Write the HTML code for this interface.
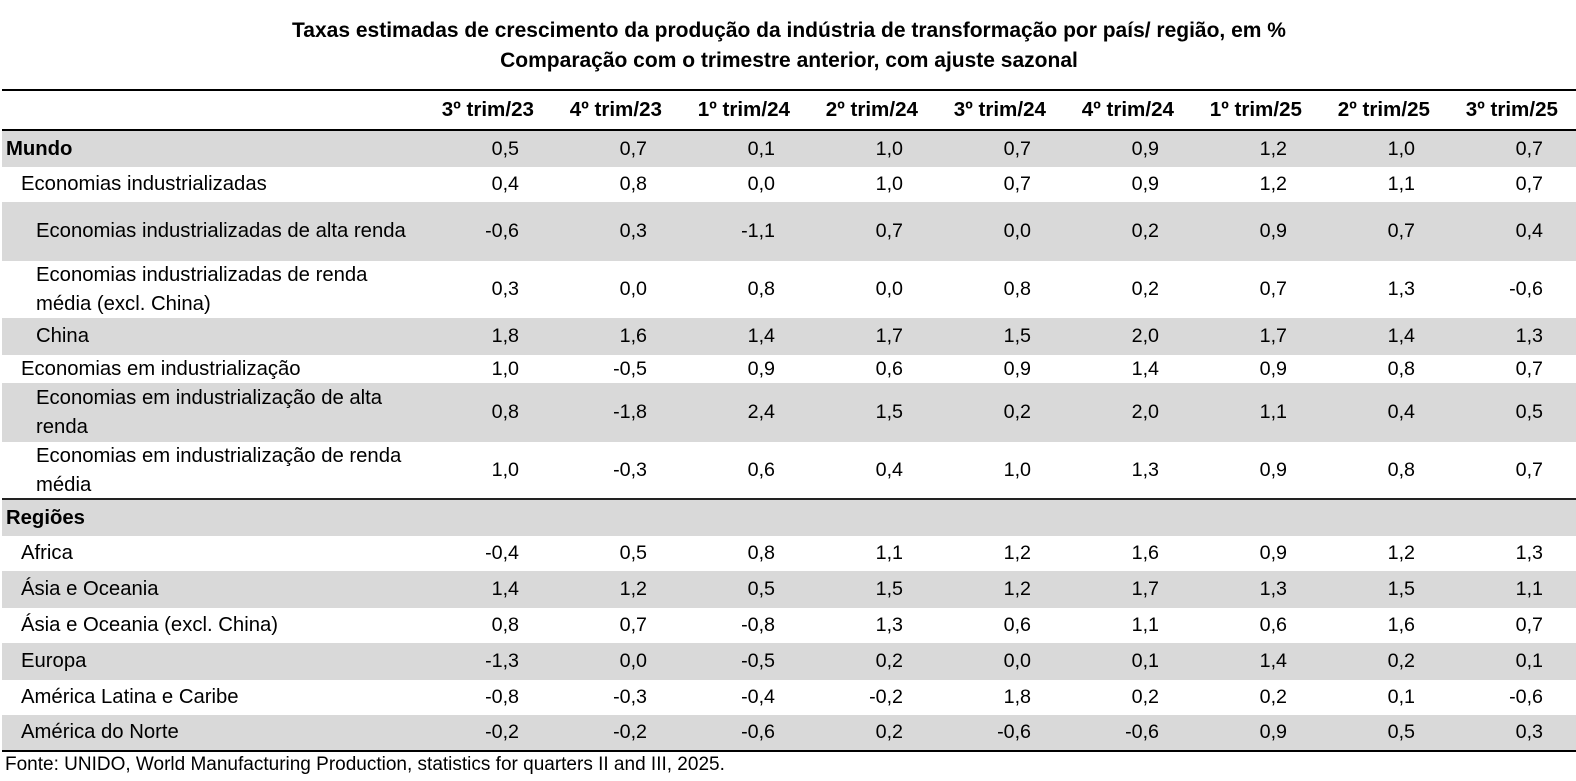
<!DOCTYPE html>
<html>
<head>
<meta charset="utf-8">
<style>
  html,body{margin:0;padding:0;background:#fff;}
  body{width:1576px;height:781px;position:relative;overflow:hidden;font-family:"Liberation Sans",Arial,sans-serif;color:#000;}
  .title{position:absolute;left:2px;width:1574px;top:16px;text-align:center;font-weight:bold;font-size:21px;line-height:30px;white-space:nowrap;}
  .hl{position:absolute;left:2px;width:1574px;background:#000;}
  .row{position:absolute;left:2px;width:1574px;display:flex;align-items:center;}
  .g{background:#d9d9d9;}
  .lab{width:404px;box-sizing:border-box;font-size:20.3px;white-space:nowrap;line-height:29px;}
  .c{width:128px;box-sizing:border-box;text-align:right;padding-right:15px;font-size:19.7px;white-space:nowrap;}
  .h .c{padding-right:0;font-weight:bold;font-size:20.6px;}
  .b{font-weight:bold;}
  .i0{padding-left:4px;}
  .i1{padding-left:19px;}
  .i2{padding-left:34px;}
  .foot{position:absolute;left:5px;top:755px;font-size:19px;line-height:20px;white-space:nowrap;}
</style>
</head>
<body>
<div class="title">Taxas estimadas de crescimento da produção da indústria de transformação por país/ região, em %<br>Comparação com o trimestre anterior, com ajuste sazonal</div>

<div class="hl" style="top:89px;height:2px;"></div>
<div class="row h" style="top:91px;height:38px;">
  <div class="lab"></div>
  <div class="c">3º trim/23</div><div class="c">4º trim/23</div><div class="c">1º trim/24</div><div class="c">2º trim/24</div><div class="c">3º trim/24</div><div class="c">4º trim/24</div><div class="c">1º trim/25</div><div class="c">2º trim/25</div><div class="c">3º trim/25</div>
</div>
<div class="hl" style="top:129px;height:2px;"></div>

<div class="row g" style="top:131px;height:36px;">
  <div class="lab i0 b">Mundo</div>
  <div class="c">0,5</div><div class="c">0,7</div><div class="c">0,1</div><div class="c">1,0</div><div class="c">0,7</div><div class="c">0,9</div><div class="c">1,2</div><div class="c">1,0</div><div class="c">0,7</div>
</div>
<div class="row" style="top:167px;height:35px;">
  <div class="lab i1">Economias industrializadas</div>
  <div class="c">0,4</div><div class="c">0,8</div><div class="c">0,0</div><div class="c">1,0</div><div class="c">0,7</div><div class="c">0,9</div><div class="c">1,2</div><div class="c">1,1</div><div class="c">0,7</div>
</div>
<div class="row g" style="top:202px;height:59px;">
  <div class="lab i2">Economias industrializadas de alta renda</div>
  <div class="c">-0,6</div><div class="c">0,3</div><div class="c">-1,1</div><div class="c">0,7</div><div class="c">0,0</div><div class="c">0,2</div><div class="c">0,9</div><div class="c">0,7</div><div class="c">0,4</div>
</div>
<div class="row" style="top:261px;height:57px;">
  <div class="lab i2">Economias industrializadas de renda<br>média (excl. China)</div>
  <div class="c">0,3</div><div class="c">0,0</div><div class="c">0,8</div><div class="c">0,0</div><div class="c">0,8</div><div class="c">0,2</div><div class="c">0,7</div><div class="c">1,3</div><div class="c">-0,6</div>
</div>
<div class="row g" style="top:318px;height:37px;">
  <div class="lab i2">China</div>
  <div class="c">1,8</div><div class="c">1,6</div><div class="c">1,4</div><div class="c">1,7</div><div class="c">1,5</div><div class="c">2,0</div><div class="c">1,7</div><div class="c">1,4</div><div class="c">1,3</div>
</div>
<div class="row" style="top:355px;height:28px;">
  <div class="lab i1">Economias em industrialização</div>
  <div class="c">1,0</div><div class="c">-0,5</div><div class="c">0,9</div><div class="c">0,6</div><div class="c">0,9</div><div class="c">1,4</div><div class="c">0,9</div><div class="c">0,8</div><div class="c">0,7</div>
</div>
<div class="row g" style="top:383px;height:59px;">
  <div class="lab i2">Economias em industrialização de alta<br>renda</div>
  <div class="c">0,8</div><div class="c">-1,8</div><div class="c">2,4</div><div class="c">1,5</div><div class="c">0,2</div><div class="c">2,0</div><div class="c">1,1</div><div class="c">0,4</div><div class="c">0,5</div>
</div>
<div class="row" style="top:442px;height:57px;">
  <div class="lab i2">Economias em industrialização de renda<br>média</div>
  <div class="c">1,0</div><div class="c">-0,3</div><div class="c">0,6</div><div class="c">0,4</div><div class="c">1,0</div><div class="c">1,3</div><div class="c">0,9</div><div class="c">0,8</div><div class="c">0,7</div>
</div>
<div class="hl" style="top:498px;height:2px;background:#222;"></div>

<div class="row g" style="top:500px;height:36px;">
  <div class="lab i0 b">Regiões</div>
</div>
<div class="row" style="top:536px;height:35px;">
  <div class="lab i1">Africa</div>
  <div class="c">-0,4</div><div class="c">0,5</div><div class="c">0,8</div><div class="c">1,1</div><div class="c">1,2</div><div class="c">1,6</div><div class="c">0,9</div><div class="c">1,2</div><div class="c">1,3</div>
</div>
<div class="row g" style="top:571px;height:37px;">
  <div class="lab i1">Ásia e Oceania</div>
  <div class="c">1,4</div><div class="c">1,2</div><div class="c">0,5</div><div class="c">1,5</div><div class="c">1,2</div><div class="c">1,7</div><div class="c">1,3</div><div class="c">1,5</div><div class="c">1,1</div>
</div>
<div class="row" style="top:608px;height:35px;">
  <div class="lab i1">Ásia e Oceania (excl. China)</div>
  <div class="c">0,8</div><div class="c">0,7</div><div class="c">-0,8</div><div class="c">1,3</div><div class="c">0,6</div><div class="c">1,1</div><div class="c">0,6</div><div class="c">1,6</div><div class="c">0,7</div>
</div>
<div class="row g" style="top:643px;height:37px;">
  <div class="lab i1">Europa</div>
  <div class="c">-1,3</div><div class="c">0,0</div><div class="c">-0,5</div><div class="c">0,2</div><div class="c">0,0</div><div class="c">0,1</div><div class="c">1,4</div><div class="c">0,2</div><div class="c">0,1</div>
</div>
<div class="row" style="top:680px;height:35px;">
  <div class="lab i1">América Latina e Caribe</div>
  <div class="c">-0,8</div><div class="c">-0,3</div><div class="c">-0,4</div><div class="c">-0,2</div><div class="c">1,8</div><div class="c">0,2</div><div class="c">0,2</div><div class="c">0,1</div><div class="c">-0,6</div>
</div>
<div class="row g" style="top:715px;height:35px;">
  <div class="lab i1">América do Norte</div>
  <div class="c">-0,2</div><div class="c">-0,2</div><div class="c">-0,6</div><div class="c">0,2</div><div class="c">-0,6</div><div class="c">-0,6</div><div class="c">0,9</div><div class="c">0,5</div><div class="c">0,3</div>
</div>
<div class="hl" style="top:750px;height:2px;"></div>

<div class="foot">Fonte: UNIDO, World Manufacturing Production, statistics for quarters II and III, 2025.</div>
</body>
</html>
